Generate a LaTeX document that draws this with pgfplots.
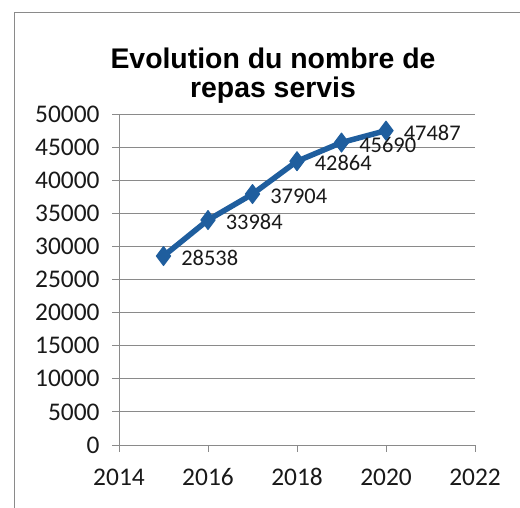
\documentclass[border=0pt]{standalone}
\usepackage{pgfplots}
\pgfplotsset{compat=1.18}
\usepackage{fontspec}
\setmainfont{Carlito}
\newfontfamily\titlefont{Liberation Sans}
\definecolor{serie}{HTML}{1F5E9E}
\definecolor{grille}{HTML}{8A8A8A}
\begin{document}
\begin{tikzpicture}[x=1bp,y=1bp]
\useasboundingbox (0,0) rectangle (520,508);
\fill[white] (0,0) rectangle (520,508);
\draw[grille, line width=1bp] (14,0) -- (14,495) -- (520,495);
\node[font=\titlefont\bfseries\fontsize{28.5}{30}\selectfont, align=center, anchor=base] at (273,410) {Evolution du nombre de\\repas servis};
\begin{axis}[
  at={(119bp,63bp)}, anchor=south west,
  scale only axis, width=356bp, height=331bp,
  xmin=2014, xmax=2022, ymin=0, ymax=50000,
  xtick={2014,2016,...,2022},
  ytick={0,5000,...,50000},
  axis x line*=bottom, axis y line*=left,
  axis line style={grille, line width=0.9bp},
  ymajorgrids, grid style={grille, line width=0.9bp},
  tick align=outside, major tick length=7bp,
  tick style={grille, line width=0.9bp},
  /pgf/number format/assume math mode=true,
  /pgf/number format/set thousands separator={},
  scaled y ticks=false,
  ticklabel style={font=\fontsize{25.5}{28}\selectfont, text=black!90},
  yticklabel style={xshift=-9bp},
  xticklabel style={yshift=-13bp},
  clip=false,
]
\addplot[serie, line width=5.5bp, line join=round, mark=diamond*, mark size=9.5bp,
  mark options={solid, line width=1bp},
  nodes near coords, point meta=explicit symbolic,
  every node near coord/.style={anchor=west, font=\fontsize{22.5}{25}\selectfont, text=black!90, xshift=14bp, yshift=-2bp}]
  coordinates {
  (2015,28538) [28538]
  (2016,33984) [33984]
  (2017,37904) [37904]
  (2018,42864) [42864]
  (2019,45690) [45690]
  (2020,47487) [47487]
};
\end{axis}
\end{tikzpicture}
\end{document}
